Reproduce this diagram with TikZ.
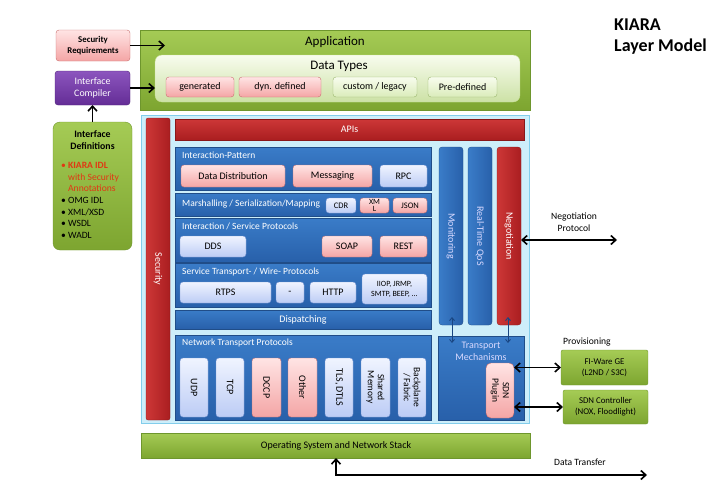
\documentclass[tikz,border=0pt]{standalone}
\usepackage{fontspec}
\setmainfont{Carlito}
\usetikzlibrary{arrows.meta}
\definecolor{gT}{RGB}{165,203,85}
\definecolor{gB}{RGB}{125,165,48}
\definecolor{gD}{RGB}{110,150,45}
\definecolor{pT}{RGB}{58,124,200}
\definecolor{pB}{RGB}{40,96,170}
\definecolor{rT}{RGB}{205,55,55}
\definecolor{rB}{RGB}{170,30,32}
\definecolor{pkT}{RGB}{255,228,228}
\definecolor{pkB}{RGB}{244,165,165}
\definecolor{pkD}{RGB}{200,110,110}
\definecolor{lbT}{RGB}{240,244,255}
\definecolor{lbB}{RGB}{188,204,245}
\definecolor{lbD}{RGB}{120,150,210}
\definecolor{lgT}{RGB}{248,252,238}
\definecolor{lgB}{RGB}{218,236,186}
\definecolor{contF}{RGB}{205,238,250}
\definecolor{contD}{RGB}{130,205,235}
\definecolor{purT}{RGB}{140,85,190}
\definecolor{purB}{RGB}{100,45,150}
\definecolor{idlred}{RGB}{225,55,20}
\definecolor{arrblue}{RGB}{25,70,130}
\tikzset{
  cor/.style args={#1,#2,#3,#4}{minimum width={(#3-#1)*1pt}, minimum height={(#4-#2)*1pt}, at={({(#1+#3)/2},{(#2+#4)/2})}},
  box/.style={inner sep=0pt, outer sep=0pt, rectangle},
  greenbar/.style={box, top color=gT, bottom color=gB, draw=gD, line width=0.4pt},
  greenbox/.style={greenbar, rounded corners=2pt},
  itemfont/.style={font=\fontsize{10}{12}\selectfont},
  pinkitem/.style={box, rounded corners=3pt, top color=pkT, bottom color=pkB, draw=pkD, line width=0.4pt, itemfont},
  blueitem/.style={box, rounded corners=3pt, top color=lbT, bottom color=lbB, draw=lbD, line width=0.4pt, itemfont},
  greenitem/.style={box, rounded corners=3pt, top color=lgT, bottom color=lgB, draw=gD!70, line width=0.4pt, itemfont},
  panel/.style={box, top color=pT, bottom color=pB, draw=pB!80!black, line width=0.3pt},
  redbar/.style={box, rounded corners=2pt, left color=rT, right color=rB, draw=rB!80!black, line width=0.3pt},
  redhbar/.style={box, top color=rT, bottom color=rB, draw=rB!80!black, line width=0.3pt},
  bluevbar/.style={box, rounded corners=3pt, left color=pT, right color=pB, draw=pB!80!black, line width=0.3pt},
  plabel/.style={anchor=west, text=white, font=\fontsize{9.5}{11}\selectfont, inner sep=0pt},
  wtext/.style={text=white, font=\fontsize{10}{12}\selectfont, inner sep=0pt},
  rtext/.style={rotate=-90, inner sep=0pt, align=center, font=\fontsize{10}{11}\selectfont},
  bigarrow/.style={line width=1.6pt, -{Straight Barb[length=5pt,width=9pt]}},
  bigdarrow/.style={line width=1.6pt, {Straight Barb[length=5pt,width=9pt]}-{Straight Barb[length=5pt,width=9pt]}},
  smallarrow/.style={line width=0.9pt, draw=arrblue, {Straight Barb[length=3pt,width=5pt]}-{Straight Barb[length=3pt,width=5pt]}},
  note/.style={font=\fontsize{9.6}{11.5}\selectfont, inner sep=0pt, align=center}
}
\begin{document}
\begin{tikzpicture}[x=1pt,y=-1pt]
\useasboundingbox (0,0) rectangle (720,498);

% title
\node[anchor=north west, font=\bfseries\fontsize{18}{21}\selectfont, align=left, inner sep=0pt] (title) at (614,19) {KIARA\\Layer Model};

% left column
\node[pinkitem, cor={56,30,130,61}, font=\bfseries\fontsize{8.8}{10.5}\selectfont, align=center] (secreq) {Security\\Requirements};
\node[box, rounded corners=3pt, top color=purT, bottom color=purB, draw=purB!80!black, cor={55,71,130,105}, text=white, font=\fontsize{9.9}{11.5}\selectfont, align=center] (icomp) {Interface\\Compiler};
\node[greenbar, rounded corners=7pt, cor={53,122,132,250}] (idef) {};
\node[note, font=\bfseries\fontsize{9.8}{11.5}\selectfont] (idefT) at (92.5,140) {Interface\\Definitions};
\node[anchor=north west, inner sep=0pt, align=left, font=\fontsize{9.6}{11.7}\selectfont] (idefL) at (61,162)
 {\textcolor{idlred}{\textbullet\ \textbf{KIARA IDL}}\\
  \textcolor{idlred}{\phantom{\textbullet\ }with Security}\\
  \textcolor{idlred}{\phantom{\textbullet\ }Annotations}\\
  \textbullet\ OMG IDL\\ \textbullet\ XML/XSD\\ \textbullet\ WSDL\\ \textbullet\ WADL};

% application
\node[greenbar, cor={140,30,530,110}] (app) {};
\node[inner sep=0pt, font=\fontsize{13}{15}\selectfont] (appT) at (335,42) {Application};
\node[box, rounded corners=7pt, top color=lgT, bottom color=lgB!85!gB, draw=gT!60!white, line width=0.4pt, cor={155,55,520,102}] (dtypes) {};
\node[inner sep=0pt, font=\fontsize{13}{15}\selectfont] (dtT) at (339,66) {Data Types};
\node[pinkitem, cor={166,77,234,97}] (gen) {generated};
\node[pinkitem, cor={239,77,321,97}] (dyn) {dyn. defined};
\node[greenitem, cor={333,77,417,97}] (cust) {custom / legacy};
\node[greenitem, cor={428,77,497,97}] (pre) {Pre-defined};

% container
\node[box, fill=contF, draw=contD, line width=0.8pt, cor={141,115,529,423}] (cont) {};
\node[redbar, cor={146,118,170,420}] (sec) {};
\node[wtext, rotate=-90] (secT) at (sec.center) {Security};
\node[redhbar, cor={175,119,524,140}] (apis) {};
\node[wtext] (apisT) at (apis.center) {APIs};

% interaction pattern
\node[panel, cor={175,147,431,190}] (ip) {};
\node[plabel] (ipT) at (182,155) {Interaction-Pattern};
\node[pinkitem, cor={181,165,285,187}] (dd) {Data Distribution};
\node[pinkitem, cor={293,165,372,187}] (msg) {Messaging};
\node[blueitem, cor={380,165,427,187}] (rpc) {RPC};

% marshalling
\node[panel, cor={175,193,431,216}] (mar) {};
\node[plabel] (marT) at (182,204.5) {Marshalling / Serialization/Mapping};
\node[blueitem, cor={326,198,356,213}, font=\fontsize{8.5}{9}\selectfont] (cdr) {CDR};
\node[pinkitem, cor={360,198,389,213}, font=\fontsize{8}{6.5}\selectfont, align=center] (xml) {XM\\L};
\node[pinkitem, cor={393,198,427,213}, font=\fontsize{8.5}{9}\selectfont] (json) {JSON};

% interaction / service protocols
\node[panel, cor={175,218,431,262}] (isp) {};
\node[plabel] (ispT) at (182,226) {Interaction / Service Protocols};
\node[blueitem, cor={180,236,246,257}] (dds) {DDS};
\node[pinkitem, cor={322,236,372,257}] (soap) {SOAP};
\node[pinkitem, cor={380,236,427,257}] (rest) {REST};

% service transport
\node[panel, cor={175,263,431,307}] (st) {};
\node[plabel] (stT) at (182,272) {Service Transport- / Wire- Protocols};
\node[blueitem, cor={180,282,271,303}] (rtps) {RTPS};
\node[blueitem, cor={276,282,304,303}] (dash) {-};
\node[blueitem, cor={310,282,356,303}] (http) {HTTP};
\node[blueitem, cor={362,274,427,304}, font=\fontsize{8}{10}\selectfont, align=center] (iiop) {IIOP, JRMP,\\SMTP, BEEP, ...};

% dispatching
\node[panel, cor={175,310,431,329}] (disp) {};
\node[wtext] (dispT) at (disp.center) {Dispatching};

% network transport
\node[panel, cor={175,335,431,420}] (ntp) {};
\node[plabel] (ntpT) at (182,343) {Network Transport Protocols};
\node[blueitem, cor={180,358,208,417}] (udp) {};
\node[rtext] (udpT) at (udp.center) {UDP};
\node[blueitem, cor={216,358,244,417}] (tcp) {};
\node[rtext] (tcpT) at (tcp.center) {TCP};
\node[pinkitem, cor={252,358,281,417}] (dccp) {};
\node[rtext] (dccpT) at (dccp.center) {DCCP};
\node[pinkitem, cor={288,358,317,417}] (oth) {};
\node[rtext] (othT) at (oth.center) {Other};
\node[blueitem, cor={325,358,353,417}] (tls) {};
\node[rtext] (tlsT) at (tls.center) {TLS, DTLS};
\node[blueitem, cor={361,358,390,417}] (shm) {};
\node[rtext, font=\fontsize{9.5}{10}\selectfont] (shmT) at (shm.center) {Shared\\Memory};
\node[blueitem, cor={398,358,426,417}] (bpf) {};
\node[rtext, font=\fontsize{9.5}{10}\selectfont] (bpfT) at (bpf.center) {Backplane\\/ Fabric};

% vertical bars
\node[bluevbar, cor={439,147,463,325}] (mon) {};
\node[wtext, rotate=-90, text=white!85!blue] (monT) at (mon.center) {Monitoring};
\node[bluevbar, cor={468,147,492,325}] (qos) {};
\node[wtext, rotate=-90, text=white!85!blue] (qosT) at (qos.center) {Real-Time QoS};
\node[redbar, rounded corners=3pt, cor={497,147,521,325}] (neg) {};
\node[wtext, rotate=-90] (negT) at (neg.center) {Negotiation};

% transport mechanisms
\node[panel, cor={438,336,524,420}] (tm) {};
\node[wtext, align=center, text=white!85!blue, font=\fontsize{10}{12}\selectfont] (tmT) at (481,351) {Transport\\Mechanisms};
\node[pinkitem, rounded corners=5pt, cor={486,363,514,418}] (sdn) {};
\node[rtext, font=\fontsize{9.5}{10.5}\selectfont] (sdnT) at (sdn.center) {SDN\\Plugin};

\coordinate (m1) at (452,317);
\coordinate (m2) at (452,343);
\coordinate (n1) at (508,317);
\coordinate (n2) at (508,343);
\draw[smallarrow] (m1) -- (m2);
\draw[smallarrow] (n1) -- (n2);

% right boxes
\node[greenbox, cor={561,350,648,385}, font=\fontsize{8.8}{11}\selectfont, align=center] (fiw) {FI-Ware GE\\(L2ND / S3C)};
\node[greenbox, cor={563,390,648,424}, font=\fontsize{8.8}{11}\selectfont, align=center] (sdnc) {SDN Controller\\(NOX, Floodlight)};
\node[note] (provT) at (587,342) {Provisioning};
\node[note] (negpT) at (574,222) {Negotiation\\Protocol};

% OS
\node[greenbar, cor={141,433,530,458}] (os) {};
\node[inner sep=0pt, font=\fontsize{10}{12}\selectfont] (osT) at (336,445.5) {Operating System and Network Stack};
\node[note] (dtT2) at (580,462) {Data Transfer};

% arrows
\coordinate (dtA) at (336,458);
\coordinate (dtB) at (647,475);
\coordinate (negE) at (617,240);
\coordinate (srE) at (165,45.5);
\draw[bigarrow] (secreq.east) -- (srE);
\draw[bigarrow] (icomp.east) -- (icomp.east -| dtypes.west);
\draw[bigarrow] (idef.north) -- (icomp.south);
\draw[bigdarrow] (neg.east |- negE) -- (negE);
\draw[bigdarrow] (sdn.east |- fiw) -- (fiw.west);
\draw[bigdarrow] (sdn.east |- sdnc) -- (sdnc.west);
\draw[line width=1.6pt, {Straight Barb[length=5pt,width=9pt]}-{Straight Barb[length=5pt,width=9pt]}] (dtA) |- (dtB);
\end{tikzpicture}
\end{document}
